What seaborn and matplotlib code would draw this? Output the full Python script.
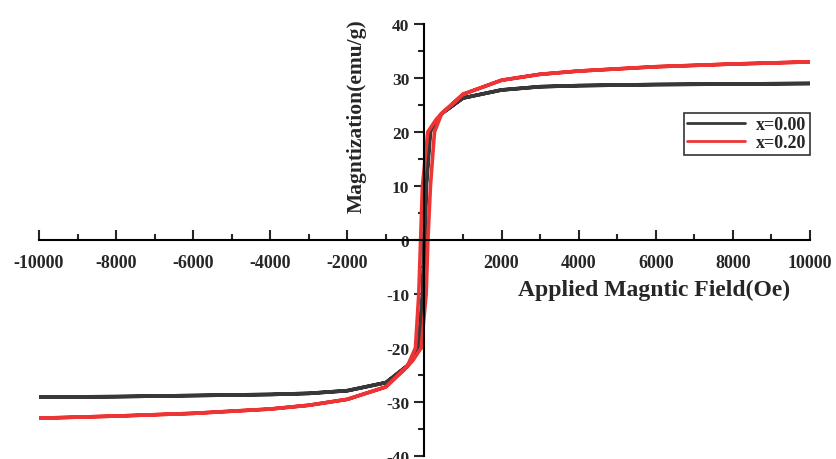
import pandas as pd
import matplotlib
matplotlib.use('Agg')
import matplotlib.pyplot as plt
import seaborn as sns
from matplotlib.ticker import MultipleLocator, FixedLocator

# hysteresis loops: descending branch (+10000 -> -10000) then ascending branch back
h_x000 = [10000, 8000, 6000, 4000, 3000, 2000, 1000, 450, 160, 50, 15, -40, -140, -440,
          -1000, -2000, -3000, -4000, -6000, -8000, -10000,
          -8000, -6000, -4000, -3000, -2000, -1000, -450, -160, -50, -15, 40, 140, 440,
          1000, 2000, 3000, 4000, 6000, 8000, 10000]
m_x000 = [29.0, 28.9, 28.8, 28.6, 28.4, 27.8, 26.3, 23.4, 20.5, 10.0, 0.0, -10.0, -20.0, -23.3,
          -26.4, -27.9, -28.4, -28.6, -28.8, -29.0, -29.1,
          -29.0, -28.8, -28.6, -28.4, -27.9, -26.4, -23.3, -20.5, -10.0, 0.0, 10.0, 20.0, 23.4,
          26.3, 27.8, 28.4, 28.6, 28.8, 28.9, 29.0]

h_x020 = [10000, 8000, 6000, 4000, 3000, 2000, 1000, 450, 300, 86, -52, -100, -147, -234, -440,
          -1000, -2000, -3000, -4000, -6000, -8000, -10000,
          -8000, -6000, -4000, -3000, -2000, -1000, -450, -300, -86, 45, 90, 156, 260, 440,
          1000, 2000, 3000, 4000, 6000, 8000, 10000]
m_x020 = [33.0, 32.6, 32.1, 31.3, 30.7, 29.6, 27.0, 23.5, 22.3, 20.0, 10.0, 0.0, -10.0, -20.0, -23.3,
          -27.2, -29.5, -30.6, -31.3, -32.1, -32.6, -33.0,
          -32.6, -32.1, -31.3, -30.6, -29.5, -27.2, -23.5, -22.3, -20.0, -10.0, 0.0, 10.0, 20.0, 23.3,
          27.0, 29.6, 30.7, 31.3, 32.1, 32.6, 33.0]

labels = ['x=0.00', 'x=0.20']
colors = ['#383838', '#ee3535']

xt = [-10000, -8000, -6000, -4000, -2000, 2000, 4000, 6000, 8000, 10000]
yt = [-40, -30, -20, -10, 0, 10, 20, 30, 40]

df = pd.concat([
    pd.DataFrame({'H': h_x000, 'M': m_x000, 'sample': labels[0]}),
    pd.DataFrame({'H': h_x020, 'M': m_x020, 'sample': labels[1]}),
])

sns.set_style('ticks')
plt.rcParams['font.family'] = ['Liberation Serif', 'DejaVu Serif']
plt.rcParams['font.weight'] = 'bold'

fig = plt.figure(figsize=(8.37, 4.6), dpi=100)
ax = fig.add_axes([0.0466, 0.0065, 0.921, 0.939])

sns.lineplot(data=df, x='H', y='M', hue='sample', sort=False, estimator=None,
             palette=colors, linewidth=2.6, ax=ax)

ax.set_xlim(-10000, 10000)
ax.set_ylim(-40, 40)

# axes through the origin
ax.spines['left'].set_position(('data', 0))
ax.spines['bottom'].set_position(('data', 0))
ax.spines['right'].set_visible(False)
ax.spines['top'].set_visible(False)
for s in ['left', 'bottom']:
    ax.spines[s].set_linewidth(1.5)
    ax.spines[s].set_color('black')

ax.xaxis.set_major_locator(FixedLocator(xt))
ax.xaxis.set_minor_locator(MultipleLocator(1000))
ax.yaxis.set_minor_locator(MultipleLocator(5))
ax.set_xticks(xt)
ax.set_xticklabels([str(v) for v in xt], fontsize=13, fontweight='bold')
ax.set_yticks(yt)
ax.set_yticklabels([str(v) for v in yt], fontsize=12.5, fontweight='bold')

ax.tick_params(axis='x', which='both', direction='in', width=1.5, pad=10, bottom=True)
ax.tick_params(axis='x', which='major', length=7)
ax.tick_params(axis='x', which='minor', length=4)
ax.tick_params(axis='y', which='both', direction='out', width=1.5, left=True, pad=4)
ax.tick_params(axis='y', which='major', length=7)
ax.tick_params(axis='y', which='minor', length=4)

ax.set_xlabel('Applied Magntic Field(Oe)', fontsize=17, fontweight='bold')
ax.xaxis.set_label_coords(0.798, 0.41)
ax.set_ylabel('Magntization(emu/g)', fontsize=15.5, fontweight='bold')
ax.yaxis.set_label_coords(0.425, 0.79)

leg = ax.legend(loc='upper right', bbox_to_anchor=(1.0, 0.795), frameon=True,
                fancybox=False, edgecolor='black', fontsize=13, handlelength=3.2,
                borderpad=0.2, labelspacing=0.05, handletextpad=0.6, borderaxespad=0)
leg.get_frame().set_linewidth(1.2)
for line in leg.get_lines():
    line.set_linewidth(2)
for t in leg.get_texts():
    t.set_fontweight('bold')

fig.savefig('out.png', dpi=100, facecolor='white')
